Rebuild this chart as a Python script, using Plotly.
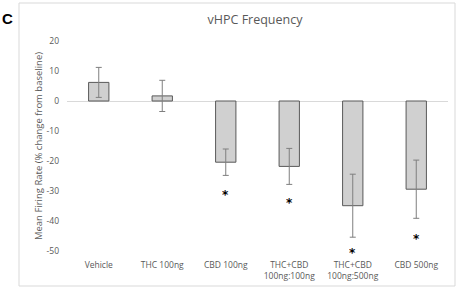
import plotly.graph_objects as go

categories = ["Vehicle", "THC 100ng", "CBD 100ng", "THC+CBD<br>100ng:100ng",
              "THC+CBD<br>100ng:500ng", "CBD 500ng"]
means = [6.2, 1.7, -20.4, -21.8, -34.9, -29.4]
errors = [5.0, 5.2, 4.4, 6.0, 10.5, 9.7]
star_y = [None, None, -30.2, -32.8, -49.6, -44.8]
y_ticks = [20, 10, 0, -10, -20, -30, -40, -50]

W, H = 460, 289
L, R, T, B = 67, 12, 41, 38
pw, ph = W - L - R, H - T - B

fig = go.Figure()
fig.add_trace(go.Bar(
    x=categories, y=means,
    marker=dict(color="#d0d0d0", line=dict(color="#595959", width=1)),
    error_y=dict(type="data", array=errors, visible=True, color="#7f7f7f",
                 thickness=1, width=3),
    width=0.32, showlegend=False, hoverinfo="skip",
))

for c, s in zip(categories, star_y):
    if s is None:
        continue
    fig.add_annotation(x=c, y=s, text="<b>*</b>", showarrow=False,
                       xanchor="center", yanchor="middle", yshift=-3,
                       height=9, valign="middle", borderpad=0,
                       font=dict(size=12, color="#000000", family="DejaVu Sans"))

def px_x(p):
    return (p - L) / pw

def px_y(p):
    return (H - B - p) / ph

fig.add_shape(type="rect", xref="paper", yref="paper",
              x0=px_x(19), x1=px_x(455), y0=px_y(286), y1=px_y(3),
              line=dict(color="#d9d9d9", width=1), fillcolor="rgba(0,0,0,0)",
              layer="below")

fig.add_annotation(text="<b>C</b>", xref="paper", yref="paper",
                   x=px_x(0), y=px_y(19), xanchor="left", yanchor="middle",
                   showarrow=False, font=dict(size=15, color="#000000", family="Liberation Sans"))

fig.update_layout(
    width=W, height=H,
    margin=dict(l=L, r=R, t=T, b=B, autoexpand=False),
    paper_bgcolor="white", plot_bgcolor="white",
    font=dict(family="Open Sans", color="#595959"),
    title=dict(text="vHPC Frequency", x=(255) / W, xanchor="center",
               y=1 - 20 / H, yanchor="middle",
               font=dict(size=12.5, color="#595959", family="Open Sans")),
)
fig.update_xaxes(
    type="category", showline=False, showgrid=False, zeroline=False,
    automargin=False,
    ticks="", tickfont=dict(size=8.5, color="#595959"), ticklabelstandoff=7,
)
fig.update_yaxes(
    range=[-50, 20], tickvals=y_ticks, ticktext=[str(v) for v in y_ticks],
    showgrid=False, showline=False, zeroline=True, zerolinecolor="#d9d9d9",
    zerolinewidth=1, ticks="", tickfont=dict(size=8.5, color="#595959"),
    ticklabelstandoff=7, automargin=False,
    title=dict(text="Mean Firing Rate (% change from baseline)",
               font=dict(size=9.5, color="#595959"), standoff=2),
)

fig.write_html("out.html")
